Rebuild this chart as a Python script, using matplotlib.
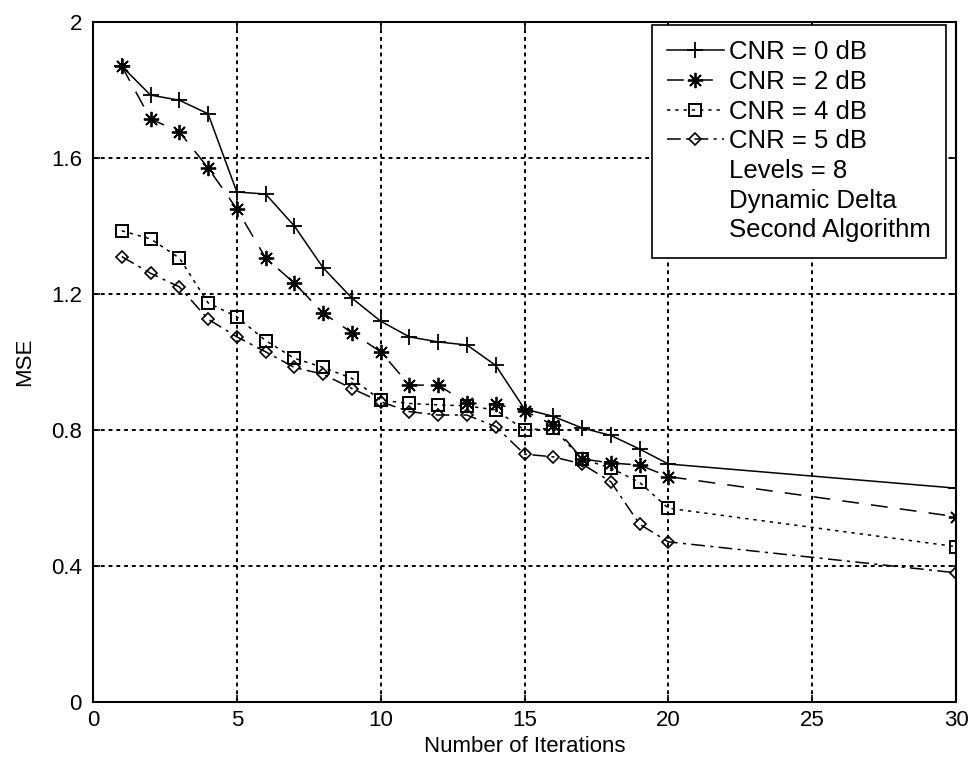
import numpy as np
import matplotlib
matplotlib.use("Agg")
import matplotlib.pyplot as plt
from matplotlib.lines import Line2D

plt.rcParams["font.family"] = ["Liberation Sans", "DejaVu Sans"]

# iterations
iters = [1, 2, 3, 4, 5, 6, 7, 8, 9, 10, 11, 12, 13, 14, 15, 16, 17, 18, 19, 20, 30]

# MSE
mse_0db = [1.87, 1.785, 1.77, 1.73, 1.50, 1.494, 1.40, 1.277, 1.188, 1.12, 1.074,
           1.059, 1.05, 0.99, 0.862, 0.840, 0.806, 0.784, 0.744, 0.70, 0.629]
mse_2db = [1.87, 1.715, 1.677, 1.571, 1.450, 1.306, 1.232, 1.144, 1.086, 1.030, 0.932,
           0.932, 0.879, 0.876, 0.856, 0.815, 0.715, 0.703, 0.697, 0.663, 0.545]
mse_4db = [1.386, 1.362, 1.306, 1.174, 1.133, 1.063, 1.011, 0.984, 0.952, 0.888, 0.878,
           0.874, 0.871, 0.859, 0.800, 0.805, 0.715, 0.688, 0.646, 0.570, 0.457]
mse_5db = [1.310, 1.261, 1.221, 1.126, 1.074, 1.030, 0.984, 0.964, 0.922, 0.883, 0.854,
           0.844, 0.844, 0.810, 0.729, 0.721, 0.700, 0.648, 0.523, 0.471, 0.380]

labels = ["CNR = 0 dB", "CNR = 2 dB", "CNR = 4 dB", "CNR = 5 dB"]
extra_text = ["Levels = 8", "Dynamic Delta", "Second Algorithm"]

fig = plt.figure(figsize=(9.72, 7.77), dpi=100)
ax = fig.add_axes([93 / 972, 75 / 777, 863 / 972, 680 / 777])

lw = 1.1
l0, = ax.plot(iters, mse_0db, color="black", lw=lw, linestyle="-",
              marker="+", ms=11, mew=1.3)
l2, = ax.plot(iters, mse_2db, color="black", lw=lw, linestyle=(0, (11, 8)),
              marker=(8, 2, 0), ms=11, mew=1.3)
l4, = ax.plot(iters, mse_4db, color="black", lw=lw, linestyle=(0, (2.2, 3.2)),
              marker="s", ms=9, mfc="none", mew=1.4)
l5, = ax.plot(iters, mse_5db, color="black", lw=lw, linestyle=(0, (9, 3.5, 2, 3.5)),
              marker="D", ms=6.5, mfc="none", mew=1.2)

ax.set_xlim(0, 30)
ax.set_ylim(0, 2)
ax.set_xticks([0, 5, 10, 15, 20, 25, 30])
ax.set_yticks([0, 0.4, 0.8, 1.2, 1.6, 2])
ax.set_yticklabels(["0", "0.4", "0.8", "1.2", "1.6", "2"])

ax.grid(True, color="black", linestyle=(0, (2, 2)), linewidth=1.4)
ax.set_axisbelow(True)
for s in ax.spines.values():
    s.set_linewidth(1.5)
ax.tick_params(direction="in", length=5, width=1.2, top=True, right=True,
               labelsize=16)
ax.tick_params(axis="x", pad=5.5)
ax.tick_params(axis="y", pad=8)

ax.set_xlabel("Number of Iterations", fontsize=16, labelpad=4)
ax.set_ylabel("MSE", fontsize=16, labelpad=11)

blank = [Line2D([], [], linestyle="none") for _ in extra_text]
leg = ax.legend([l0, l2, l4, l5] + blank, labels + extra_text,
                loc="upper right", bbox_to_anchor=(946 / 972, 752 / 777),
                bbox_transform=fig.transFigure, borderaxespad=0,
                fontsize=18.5, fancybox=False, shadow=False, framealpha=1,
                edgecolor="black", handlelength=2.2, handletextpad=0.2,
                labelspacing=0.22, borderpad=0.6)
leg.get_frame().set_linewidth(1.2)

fig.savefig("out.png", dpi=100)
